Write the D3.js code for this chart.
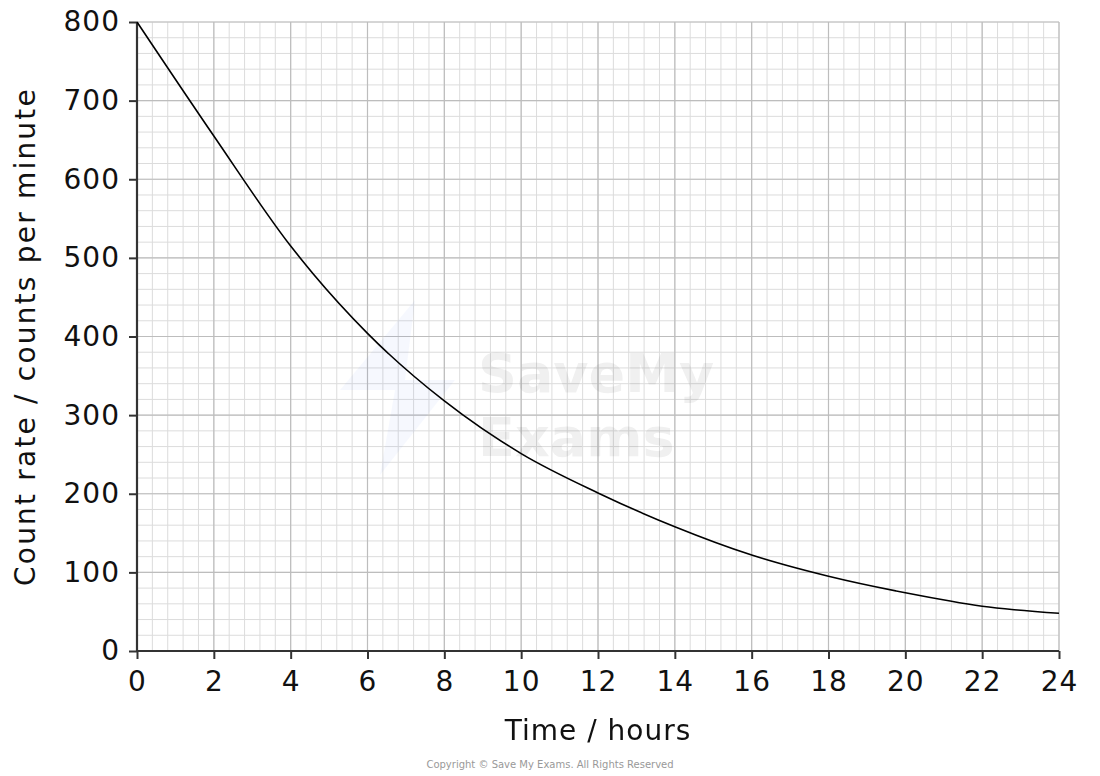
<!DOCTYPE html>
<html>
<head>
<meta charset="utf-8">
<script src="https://cdn.jsdelivr.net/npm/d3@7/dist/d3.min.js"></script>
<style>
  html, body { margin: 0; padding: 0; background: #fff; }
  svg { display: block; }
  text { font-family: "DejaVu Sans", sans-serif; fill: #111; }
</style>
</head>
<body>
<svg id="chart" width="1100" height="776"></svg>
<script>
// Data
const timeHours = [0, 2, 4, 6, 8, 10, 12, 14, 16, 18, 20, 22, 24];
const countRate = [800, 655, 515, 404, 318, 251, 201, 158, 122, 95, 74, 57, 48];
const xTickValues = [0, 2, 4, 6, 8, 10, 12, 14, 16, 18, 20, 22, 24];
const yTickValues = [0, 100, 200, 300, 400, 500, 600, 700, 800];
const xLabel = "Time / hours";
const yLabel = "Count rate / counts per minute";
const copyright = "Copyright © Save My Exams. All Rights Reserved";

const svg = d3.select("#chart");
const margin = { left: 137, right: 41, top: 22, bottom: 125 };
const W = 1100, H = 776;
const x = d3.scaleLinear().domain([0, 24]).range([margin.left, W - margin.right]);
const y = d3.scaleLinear().domain([0, 800]).range([H - margin.bottom, margin.top]);

// minor grid
const minorX = d3.range(0, 24.0001, 0.4);
const minorY = d3.range(0, 800.001, 20);
const grid = svg.append("g");
grid.selectAll("line.mx").data(minorX).enter().append("line")
  .attr("x1", d => x(d)).attr("x2", d => x(d))
  .attr("y1", y(0)).attr("y2", y(800))
  .attr("stroke", "#dcdcdc").attr("stroke-width", 1);
grid.selectAll("line.my").data(minorY).enter().append("line")
  .attr("x1", x(0)).attr("x2", x(24))
  .attr("y1", d => y(d)).attr("y2", d => y(d))
  .attr("stroke", "#dcdcdc").attr("stroke-width", 1);
// major grid
grid.selectAll("line.Mx").data(xTickValues).enter().append("line")
  .attr("x1", d => x(d)).attr("x2", d => x(d))
  .attr("y1", y(0)).attr("y2", y(800))
  .attr("stroke", "#bdbdbd").attr("stroke-width", 1.2);
grid.selectAll("line.My").data(yTickValues).enter().append("line")
  .attr("x1", x(0)).attr("x2", x(24))
  .attr("y1", d => y(d)).attr("y2", d => y(d))
  .attr("stroke", "#bdbdbd").attr("stroke-width", 1.2);

// watermark
const wm = svg.append("g").attr("opacity", 0.06);
wm.append("path")
  .attr("d", "M415,300 L340,390 L395,390 L380,475 L455,380 L405,380 Z")
  .attr("fill", "#3b6cf0").attr("opacity", 0.7);
wm.append("text").attr("x", 478).attr("y", 392).attr("font-size", 54)
  .attr("font-weight", "bold").style("fill", "#000").text("SaveMy");
wm.append("text").attr("x", 478).attr("y", 456).attr("font-size", 54)
  .attr("font-weight", "bold").style("fill", "#000").text("Exams");

// axes
const xAxis = d3.axisBottom(x).tickValues(xTickValues).tickSize(8).tickPadding(12)
  .tickFormat(d3.format("d"));
const yAxis = d3.axisLeft(y).tickValues(yTickValues).tickSize(8).tickPadding(9)
  .tickFormat(d3.format("d"));
const gx = svg.append("g").attr("transform", `translate(0,${y(0)})`).call(xAxis);
const gy = svg.append("g").attr("transform", `translate(${x(0)},0)`).call(yAxis);
[gx, gy].forEach(g => {
  g.select(".domain").attr("stroke", "#333").attr("stroke-width", 2.2);
  g.selectAll(".tick line").attr("stroke", "#333").attr("stroke-width", 2);
  g.selectAll(".tick text").attr("font-size", 28).attr("font-family", "DejaVu Sans, sans-serif")
    .attr("fill", "#111").attr("letter-spacing", 1);
});
gx.select(".domain").attr("d", `M${x(0)},0H${x(24)}`);
gy.select(".domain").attr("d", `M0,${y(0)}V${y(800)}`);

// curve
const line = d3.line().x((d, i) => x(timeHours[i])).y(d => y(d)).curve(d3.curveMonotoneX);
svg.append("path").datum(countRate)
  .attr("d", line).attr("fill", "none").attr("stroke", "#000").attr("stroke-width", 1.6);

// labels
svg.append("text").attr("x", (x(0) + x(24)) / 2).attr("y", 740)
  .attr("text-anchor", "middle").attr("font-size", 28).attr("letter-spacing", 1).text(xLabel);
svg.append("text").attr("transform", `translate(35,${(y(0) + y(800)) / 2}) rotate(-90)`)
  .attr("text-anchor", "middle").attr("font-size", 28).attr("letter-spacing", 2.2).text(yLabel);
svg.append("text").attr("x", 550).attr("y", 768).attr("text-anchor", "middle")
  .attr("font-size", 10).style("fill", "#999").attr("font-family", "Open Sans, sans-serif").text(copyright);
</script>
</body>
</html>
